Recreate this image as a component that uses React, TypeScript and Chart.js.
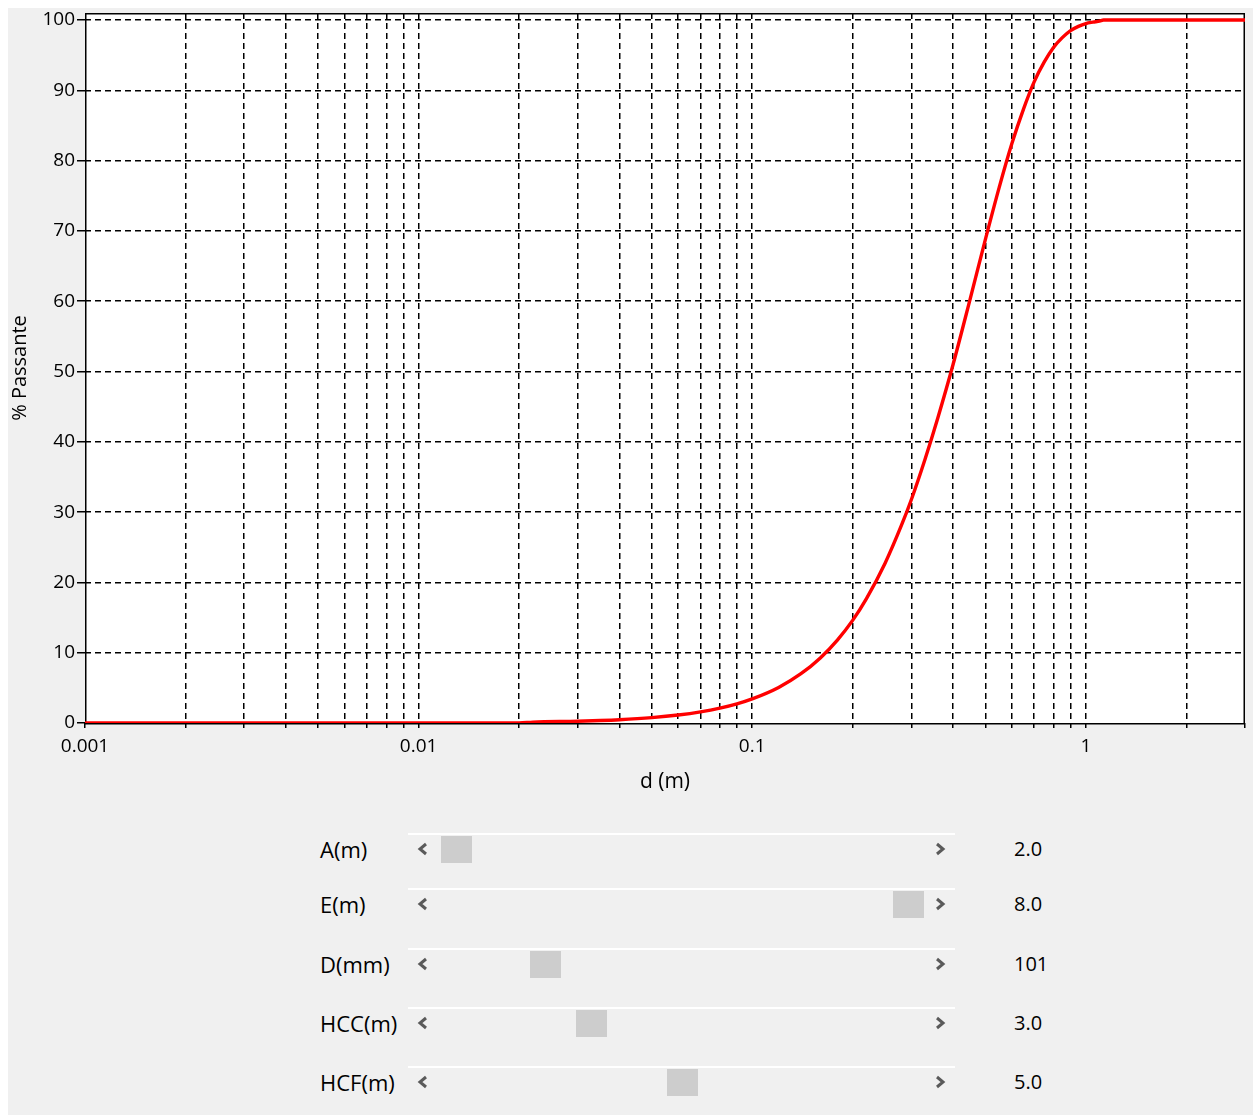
import React, { useEffect, useRef } from "react";
import { Chart, registerables } from "chart.js";

Chart.register(...registerables);

// Particle size (m) and cumulative % passing
const sizes = [
  0.001, 0.005, 0.01, 0.02, 0.022, 0.03, 0.035, 0.04, 0.05, 0.06, 0.07, 0.08, 0.09,
  0.1, 0.12, 0.14, 0.16, 0.18, 0.2, 0.22, 0.25, 0.28, 0.3, 0.33, 0.36, 0.4,
  0.45, 0.5, 0.55, 0.6, 0.65, 0.7, 0.75, 0.8, 0.85, 0.9, 0.95, 1.0, 1.05, 1.1,
  1.13, 1.5, 2.0, 3.0,
];
const passing = [
  0, 0, 0, 0, 0.13, 0.25, 0.35, 0.47, 0.77, 1.14, 1.59, 2.12, 2.73,
  3.43, 5.06, 7.01, 9.26, 11.8, 14.6, 17.7, 22.7, 28.1, 31.8, 37.6, 43.4, 51.0,
  60.3, 68.8, 76.2, 82.4, 87.3, 91.2, 94.0, 96.1, 97.5, 98.5, 99.1, 99.5, 99.7, 99.85,
  100, 100, 100, 100,
];

const xMin = 0.001;
const xMax = 3;
const xMajorTicks = [0.001, 0.01, 0.1, 1];
const xTickLabels = ["0.001", "0.01", "0.1", "1"];
const yMin = 0;
const yMax = 101;
const yTicks = [0, 10, 20, 30, 40, 50, 60, 70, 80, 90, 100];

const xTitle = "d (m)";
const yTitle = "% Passante";

const sliderLabels = ["A(m)", "E(m)", "D(mm)", "HCC(m)", "HCF(m)"];
const sliderValues = ["2.0", "8.0", "101", "3.0", "5.0"];
const sliderFractions = [0.01, 0.996, 0.205, 0.305, 0.503];

// layout (page coordinates)
const PANEL_X = 8;
const PANEL_Y = 8;
const rowLineY = [834, 889, 949, 1008, 1067];
const TRACK_X0 = 408;
const TRACK_X1 = 955;
const THUMB_MIN = 436;
const THUMB_MAX = 895;

function buildXTicks(): number[] {
  const out: number[] = [];
  for (const m of xMajorTicks) {
    for (let k = 1; k <= 9; k++) {
      const v = parseFloat((m * k).toPrecision(6));
      if (v >= xMin && v <= xMax) out.push(v);
    }
  }
  return out;
}

const FONT = "'Open Sans', 'DejaVu Sans', sans-serif";
const NONE = "rgba(0,0,0,0)";

const framePlugin = {
  id: "frame",
  beforeDraw(chart: any) {
    const { ctx, chartArea } = chart;
    ctx.save();
    ctx.fillStyle = "#ffffff";
    ctx.fillRect(chartArea.left, chartArea.top, chartArea.right - chartArea.left, chartArea.bottom - chartArea.top);
    ctx.restore();
  },
  beforeDatasetsDraw(chart: any) {
    const { ctx, chartArea } = chart;
    const l = Math.round(chartArea.left);
    const t = Math.round(chartArea.top);
    const r = Math.round(chartArea.right);
    const b = Math.round(chartArea.bottom);
    ctx.save();
    ctx.strokeStyle = "#000";
    ctx.lineWidth = 1.5;
    ctx.setLineDash([]);
    ctx.beginPath();
    ctx.moveTo(l + 0.75, b + 0.75);
    ctx.lineTo(l + 0.75, t + 0.75);
    ctx.lineTo(r - 0.75, t + 0.75);
    ctx.lineTo(r - 0.75, b + 0.75);
    ctx.closePath();
    ctx.stroke();
    ctx.restore();
  },
};

function Chevron({ dir }: { dir: "l" | "r" }) {
  const pts = dir === "l" ? "9,2 3,7 9,12" : "3,2 9,7 3,12";
  return (
    <svg width={12} height={14} style={{ display: "block" }}>
      <polyline points={pts} fill="none" stroke="#5a5a5a" strokeWidth={3} />
    </svg>
  );
}

export default function App() {
  const ref = useRef<HTMLCanvasElement | null>(null);

  useEffect(() => {
    if (!ref.current) return;
    const xTicks = buildXTicks();
    const chart = new Chart(ref.current, {
      type: "line",
      data: {
        datasets: [
          {
            data: sizes.map((s, i) => ({ x: s, y: passing[i] })),
            borderColor: "#ff0000",
            borderWidth: 3.4,
            pointRadius: 0,
            fill: false,
            cubicInterpolationMode: "monotone",
          },
        ],
      },
      options: {
        animation: false,
        responsive: false,
        devicePixelRatio: 1,
        layout: { padding: { left: 0, top: 5, right: 8, bottom: 0 } },
        plugins: { legend: { display: false }, tooltip: { enabled: false } },
        scales: {
          x: {
            type: "logarithmic",
            min: xMin,
            max: xMax,
            afterBuildTicks: (s: any) => {
              s.ticks = xTicks.map((v) => ({ value: v }));
            },
            afterFit: (s: any) => {
              s.height = 85;
              s.paddingLeft = 0;
              s.paddingRight = 0;
            },
            ticks: {
              autoSkip: false,
              maxRotation: 0,
              minRotation: 0,
              padding: 7,
              color: "#000",
              font: { family: FONT, size: 19 },
              callback: (v: any) => {
                const i = xMajorTicks.findIndex((m) => Math.abs(m - Number(v)) < m * 1e-6);
                return i >= 0 ? xTickLabels[i] : "";
              },
            },
            grid: {
              color: (c: any) =>
                c.tick && (Math.abs(c.tick.value - xMin) < 1e-9 || Math.abs(c.tick.value - xMax) < 1e-9) ? NONE : "#000",
              lineWidth: 1.5,
              drawTicks: true,
              tickLength: 5,
              tickColor: "#000",
              tickWidth: 1.5,
              tickBorderDash: [],
            },
            border: { display: false, dash: [6, 4] },
            title: {
              display: true,
              text: xTitle,
              color: "#000",
              font: { family: FONT, size: 21 },
              padding: { top: 0, bottom: 13 },
            },
          },
          y: {
            type: "linear",
            min: yMin,
            max: yMax,
            afterBuildTicks: (s: any) => {
              s.ticks = yTicks.map((v) => ({ value: v }));
            },
            afterFit: (s: any) => {
              s.width = 77;
              s.paddingTop = 0;
              s.paddingBottom = 0;
            },
            ticks: {
              autoSkip: false,
              padding: 2,
              color: "#000",
              font: { family: FONT, size: 19 },
            },
            grid: {
              color: (c: any) => (c.tick && c.tick.value === yMin ? NONE : "#000"),
              lineWidth: 1.5,
              drawTicks: true,
              tickLength: 8,
              tickColor: "#000",
              tickWidth: 1.5,
              tickBorderDash: [],
            },
            border: { display: false, dash: [6, 4] },
            title: {
              display: true,
              text: yTitle,
              color: "#000",
              font: { family: FONT, size: 20 },
              padding: { top: 0, bottom: 0 },
            },
          },
        },
      },
      plugins: [framePlugin],
    } as any);
    return () => chart.destroy();
  }, []);

  return (
    <div
      style={{
        position: "absolute",
        left: PANEL_X,
        top: PANEL_Y,
        width: 1245,
        height: 1107,
        background: "#f0f0f0",
        fontFamily: FONT,
        overflow: "hidden",
      }}
    >
      <canvas ref={ref} width={1245} height={800} style={{ display: "block", position: "absolute", left: 0, top: 0 }} />
      {sliderLabels.map((lab, i) => {
        const ly = rowLineY[i] - PANEL_Y;
        const cy = ly + 15;
        const thumbX = THUMB_MIN + sliderFractions[i] * (THUMB_MAX - THUMB_MIN) - PANEL_X;
        return (
          <React.Fragment key={lab}>
            <div
              style={{
                position: "absolute",
                left: 320 - PANEL_X,
                top: cy - 15,
                height: 30,
                lineHeight: "30px",
                fontSize: 22,
                color: "#000",
                whiteSpace: "nowrap",
              }}
            >
              {lab}
            </div>
            <div
              style={{
                position: "absolute",
                left: TRACK_X0 - PANEL_X,
                top: ly - 1,
                width: TRACK_X1 - TRACK_X0,
                height: 2,
                background: "#ffffff",
              }}
            />
            <div style={{ position: "absolute", left: 417 - PANEL_X, top: cy - 7 }}>
              <Chevron dir="l" />
            </div>
            <div style={{ position: "absolute", left: 934 - PANEL_X, top: cy - 7 }}>
              <Chevron dir="r" />
            </div>
            <div
              style={{
                position: "absolute",
                left: thumbX,
                top: ly + 2,
                width: 31,
                height: 27,
                background: "#cdcdcd",
              }}
            />
            <div
              style={{
                position: "absolute",
                left: 1014 - PANEL_X,
                top: cy - 15,
                height: 30,
                lineHeight: "30px",
                fontSize: 20,
                color: "#000",
                whiteSpace: "nowrap",
              }}
            >
              {sliderValues[i]}
            </div>
          </React.Fragment>
        );
      })}
    </div>
  );
}
